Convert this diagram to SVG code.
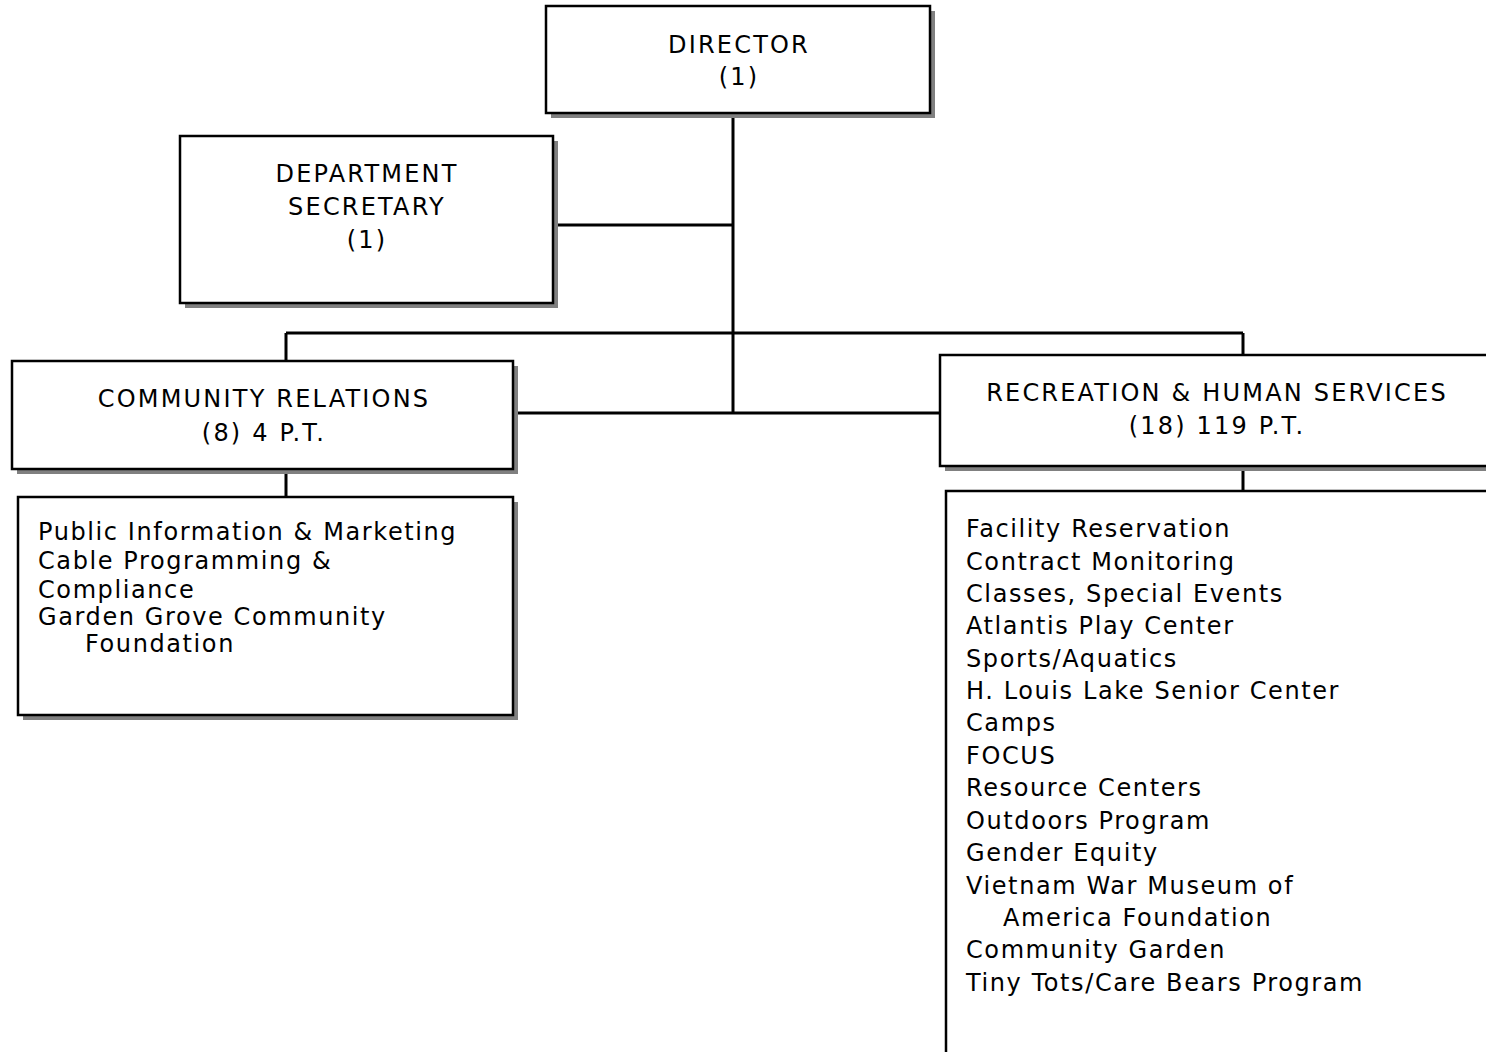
<svg xmlns="http://www.w3.org/2000/svg" width="1486" height="1052" viewBox="0 0 1486 1052">
<style>
.box{fill:#fff;stroke:#000;stroke-width:2.5}
.sh{fill:#808080}
.ln{stroke:#000;stroke-width:3;fill:none}
text{font-family:"DejaVu Sans","Liberation Sans",sans-serif;font-size:24px;letter-spacing:1.6px;fill:#000}
.c{text-anchor:middle;letter-spacing:2.2px}
</style>
<rect width="1486" height="1052" fill="#fff"/>
<g id="connectors">
<path class="ln" d="M733,113 V413 M553,225 H733 M286,333 H1243 M286,333 V361 M1243,333 V355 M513,413 H940 M286,469 V497 M1243,466 V491"/>
</g>
<g id="director">
<rect class="sh" x="551" y="11" width="384" height="107"/>
<rect class="box" x="546" y="6" width="384" height="107"/>
<text class="c" x="739" y="53">DIRECTOR</text>
<text class="c" x="739" y="85">(1)</text>
</g>
<g id="secretary">
<rect class="sh" x="185" y="141" width="373" height="167"/>
<rect class="box" x="180" y="136" width="373" height="167"/>
<text class="c" x="367" y="182">DEPARTMENT</text>
<text class="c" x="367" y="215">SECRETARY</text>
<text class="c" x="367" y="248">(1)</text>
</g>
<g id="community">
<rect class="sh" x="17" y="366" width="501" height="108"/>
<rect class="box" x="12" y="361" width="501" height="108"/>
<text class="c" x="264" y="407">COMMUNITY RELATIONS</text>
<text class="c" x="264" y="441">(8) 4 P.T.</text>
</g>
<g id="community-list">
<rect class="sh" x="23" y="502" width="495" height="218"/>
<rect class="box" x="18" y="497" width="495" height="218"/>
<text x="38" y="540">Public Information &amp; Marketing</text>
<text x="38" y="569">Cable Programming &amp;</text>
<text x="38" y="598">Compliance</text>
<text x="38" y="625">Garden Grove Community</text>
<text x="85" y="652">Foundation</text>
</g>
<g id="recreation">
<rect class="sh" x="945" y="360" width="600" height="111"/>
<rect class="box" x="940" y="355" width="600" height="111"/>
<text class="c" x="1217" y="401">RECREATION &amp; HUMAN SERVICES</text>
<text class="c" x="1217" y="434">(18) 119 P.T.</text>
</g>
<g id="recreation-list">
<rect class="box" x="946" y="491" width="600" height="600"/>
<text x="966" y="537">Facility Reservation</text>
<text x="966" y="570">Contract Monitoring</text>
<text x="966" y="602">Classes, Special Events</text>
<text x="966" y="634">Atlantis Play Center</text>
<text x="966" y="667">Sports/Aquatics</text>
<text x="966" y="699">H. Louis Lake Senior Center</text>
<text x="966" y="731">Camps</text>
<text x="966" y="764">FOCUS</text>
<text x="966" y="796">Resource Centers</text>
<text x="966" y="829">Outdoors Program</text>
<text x="966" y="861">Gender Equity</text>
<text x="966" y="894">Vietnam War Museum of</text>
<text x="1003" y="926">America Foundation</text>
<text x="966" y="958">Community Garden</text>
<text x="966" y="991">Tiny Tots/Care Bears Program</text>
</g>
</svg>
